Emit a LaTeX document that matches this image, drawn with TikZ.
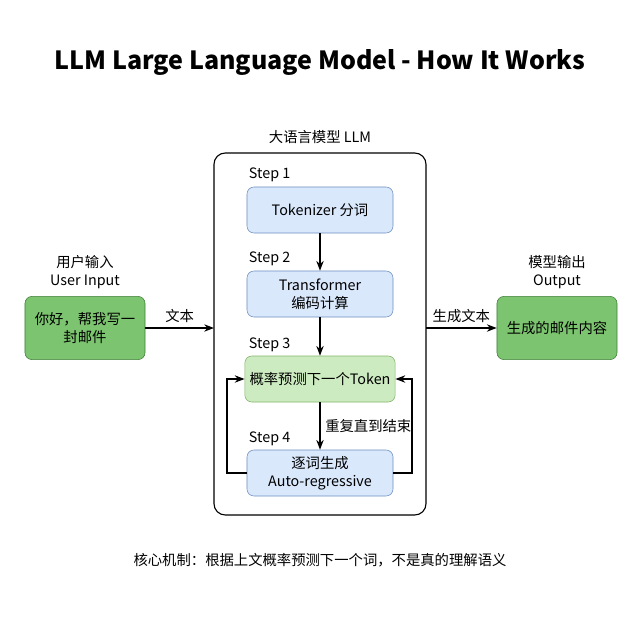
\documentclass[tikz,border=0pt]{standalone}
\usepackage{fontspec}
\setmainfont{Noto Sans CJK SC}
\usetikzlibrary{positioning,arrows.meta}
\definecolor{stepblue}{HTML}{DAE8FC}
\definecolor{stepblueline}{HTML}{6C8EBF}
\definecolor{stepgreen}{HTML}{CDEBC0}
\definecolor{stepgreenline}{HTML}{82B366}
\definecolor{iogreen}{HTML}{7CC46F}
\definecolor{iogreenline}{HTML}{3F7F38}
\tikzset{
  lbl/.style={font=\fontsize{10.2}{12.5}\selectfont},
  stepbox/.style={lbl, draw=stepblueline, fill=stepblue, rounded corners=5pt, minimum width=3.65cm, minimum height=1.15cm, align=center},
  io/.style={lbl, draw=iogreenline, fill=iogreen, rounded corners=5pt, minimum width=3cm, minimum height=1.58cm, align=center},
  arr/.style={thick, -{Stealth[length=7pt]}}
}
\begin{document}
\begin{tikzpicture}[x=0.025cm,y=-0.025cm]
\useasboundingbox (0,0) rectangle (640,640);

\node [font=\bfseries\fontsize{17.8}{22}\selectfont] (title) at (320,62) {LLM Large Language Model - How It Works};

\draw[thick, rounded corners=8pt] (214,153) rectangle (426,515);
\node [lbl] (llm) at (320,137) {大语言模型 LLM};

\node [stepbox] (tok) at (320,210) {Tokenizer 分词};
\node [stepbox] (trf) at (320,294) {Transformer\\编码计算};
\node [stepbox, fill=stepgreen, draw=stepgreenline] (pred) at (320,379) {概率预测下一个Token};
\node [stepbox] (gen) at (320,473) {逐词生成\\Auto-regressive};

\node [lbl, anchor=west] (s1) at (244,175) {Step 1};
\node [lbl, anchor=west] (s2) at (244,259) {Step 2};
\node [lbl, anchor=west] (s3) at (244,345) {Step 3};
\node [lbl, anchor=west] (s4) at (244,439) {Step 4};

\draw[arr] (tok) -- (trf);
\draw[arr] (trf) -- (pred);
\draw[arr] (pred) -- node[lbl, right] {重复直到结束} (gen);
\draw[arr] (gen.west) -- (227,473) -- (227,379) -- (pred.west);
\draw[arr] (gen.east) -- (412,473) -- (412,379) -- (pred.east);

\node [io] (in) at (85,328) {你好，帮我写一\\封邮件};
\node [lbl, align=center] (inl) at (85,272) {用户输入\\User Input};
\node [io] (out) at (557,328) {生成的邮件内容};
\node [lbl, align=center] (outl) at (557,272) {模型输出\\Output};

\coordinate (llmL) at (214,328);
\coordinate (llmR) at (426,328);
\draw[arr] (in) -- node[lbl, above] {文本} (llmL);
\draw[arr] (llmR) -- node[lbl, above] {生成文本} (out);

\node [lbl] (note) at (320,560) {核心机制：根据上文概率预测下一个词，不是真的理解语义};
\end{tikzpicture}
\end{document}
